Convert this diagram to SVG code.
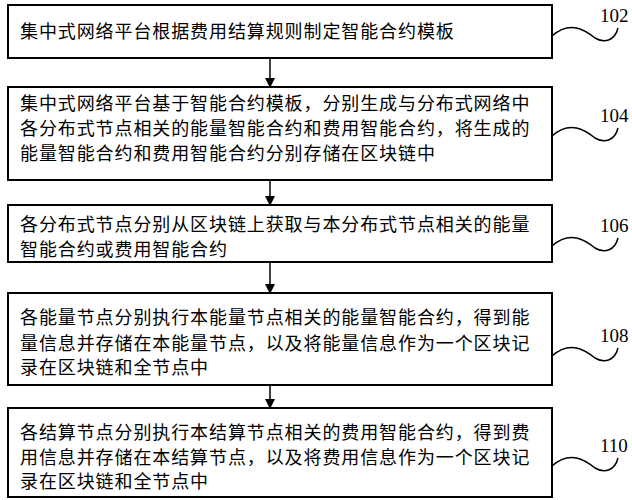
<svg xmlns="http://www.w3.org/2000/svg" width="632" height="500" viewBox="0 0 632 500">
<defs><marker id="a" markerWidth="10" markerHeight="10" refX="9" refY="5" orient="auto" markerUnits="userSpaceOnUse"><path d="M0,0 L10,5 L0,10 Z" fill="#000"/></marker></defs>
<style>
rect{fill:#fff;stroke:#000;stroke-width:2}
text{font-family:"Noto Sans CJK SC",sans-serif;font-size:18px;letter-spacing:0.9px;fill:#000}
.n{font-family:"Liberation Serif",serif;font-size:19px;letter-spacing:0}
.w{fill:none;stroke:#000;stroke-width:1.5}
</style>
<rect width="632" height="500" style="fill:#fff;stroke:none"/>
<g id="n102"><rect x="8" y="5" width="544" height="53"/><text x="20" y="38">集中式网络平台根据费用结算规则制定智能合约模板</text><path class="w" d="M552,36 C570,20 585,30 595,38 C605,44 615,40 618,28"/><text class="n" x="600" y="22">102</text></g>
<g id="n104"><rect x="8" y="87" width="544" height="93"/><text x="20" y="110">集中式网络平台基于智能合约模板，分别生成与分布式网络中</text><text x="20" y="135">各分布式节点相关的能量智能合约和费用智能合约，将生成的</text><text x="20" y="160">能量智能合约和费用智能合约分别存储在区块链中</text><path class="w" d="M552,136 C570,120 585,130 595,138 C605,144 615,140 618,128"/><text class="n" x="600" y="122">104</text></g>
<g id="n106"><rect x="8" y="205" width="544" height="57"/><text x="20" y="231">各分布式节点分别从区块链上获取与本分布式节点相关的能量</text><text x="20" y="256">智能合约或费用智能合约</text><path class="w" d="M552,246 C570,230 585,240 595,248 C605,254 615,250 618,238"/><text class="n" x="600" y="232">106</text></g>
<g id="n108"><rect x="8" y="293" width="544" height="92"/><text x="20" y="324">各能量节点分别执行本能量节点相关的能量智能合约，得到能</text><text x="20" y="350">量信息并存储在本能量节点，以及将能量信息作为一个区块记</text><text x="20" y="374">录在区块链和全节点中</text><path class="w" d="M552,356 C570,340 585,350 595,358 C605,364 615,360 618,348"/><text class="n" x="600" y="342">108</text></g>
<g id="n110"><rect x="8" y="408" width="544" height="89"/><text x="20" y="439">各结算节点分别执行本结算节点相关的费用智能合约，得到费</text><text x="20" y="464">用信息并存储在本结算节点，以及将费用信息作为一个区块记</text><text x="20" y="488">录在区块链和全节点中</text><path class="w" d="M552,466 C570,450 585,460 595,468 C605,474 615,470 618,458"/><text class="n" x="600" y="452">110</text></g>
<g id="connectors" stroke="#000" stroke-width="1.5" marker-end="url(#a)">
<line x1="270" y1="58" x2="270" y2="87"/><line x1="270" y1="180" x2="270" y2="205"/><line x1="270" y1="262" x2="270" y2="293"/><line x1="270" y1="385" x2="270" y2="408"/>
</g>
</svg>
